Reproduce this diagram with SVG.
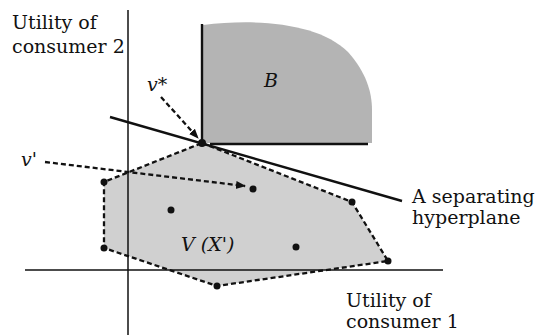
<svg xmlns="http://www.w3.org/2000/svg" width="535" height="335" viewBox="0 0 535 335">
<style>
.lbl{font-family:"DejaVu Serif","Liberation Serif",serif;font-size:19px;fill:#111}
.math{font-family:"DejaVu Serif","Liberation Serif",serif;font-style:italic;font-size:19px;fill:#111}
.axis{stroke:#111;stroke-width:1.5;fill:none}
.solid{stroke:#111;stroke-width:2.4;fill:none}
.dash{stroke:#111;stroke-width:2.3;stroke-dasharray:5,3;fill:none}
.pt{fill:#111}
</style>
<defs>
<marker id="ah" viewBox="0 0 10 10" refX="9" refY="5" markerWidth="10" markerHeight="10" markerUnits="userSpaceOnUse" orient="auto">
<path d="M0,1 L10,5 L0,9 Z" fill="#111"/>
</marker>
</defs>
<g id="regionB">
<path d="M203,25 C260,18 320,24 348,52 C366,72 372,92 372,110 L372,143 L203,143 Z" fill="#b4b4b4"/>
<line class="solid" x1="202" y1="24" x2="202" y2="140"/>
<line class="solid" x1="210" y1="144" x2="368" y2="144"/>
<text class="math" x="264" y="87">B</text>
</g>
<g id="regionV">
<polygon points="202,143 352,202 388,261 217,286 104,248 104,182" fill="#d0d0d0"/>
<polygon class="dash" points="202,143 352,202 388,261 217,286 104,248 104,182"/>
<text class="math" x="181" y="251">V (X')</text>
</g>
<g id="axes">
<line class="axis" x1="128" y1="10" x2="128" y2="335"/>
<line class="axis" x1="25" y1="270" x2="443" y2="270"/>
<text class="lbl" x="12" y="29">Utility of</text>
<text class="lbl" x="12" y="53">consumer 2</text>
<text class="lbl" x="346" y="307">Utility of</text>
<text class="lbl" x="346" y="328">consumer 1</text>
</g>
<g id="hyperplane">
<line class="solid" x1="110" y1="117" x2="402" y2="201"/>
<text class="lbl" x="412" y="203">A separating</text>
<text class="lbl" x="412" y="224">hyperplane</text>
</g>
<g id="points">
<circle class="pt" cx="202" cy="143" r="4"/>
<circle class="pt" cx="352" cy="202" r="3.5"/>
<circle class="pt" cx="388" cy="261" r="3.5"/>
<circle class="pt" cx="217" cy="286" r="3.5"/>
<circle class="pt" cx="104" cy="248" r="3.5"/>
<circle class="pt" cx="104" cy="182" r="3.5"/>
<circle class="pt" cx="253" cy="189" r="3.5"/>
<circle class="pt" cx="171" cy="210" r="3.5"/>
<circle class="pt" cx="296" cy="247" r="3.5"/>
</g>
<g id="connectors">
<line class="dash" x1="161" y1="97" x2="198" y2="138" marker-end="url(#ah)"/>
<line class="dash" x1="45" y1="162" x2="245" y2="186" marker-end="url(#ah)"/>
</g>
<g id="labels">
<text class="math" x="147" y="91">v*</text>
<text class="math" x="21" y="166">v'</text>
</g>
</svg>
